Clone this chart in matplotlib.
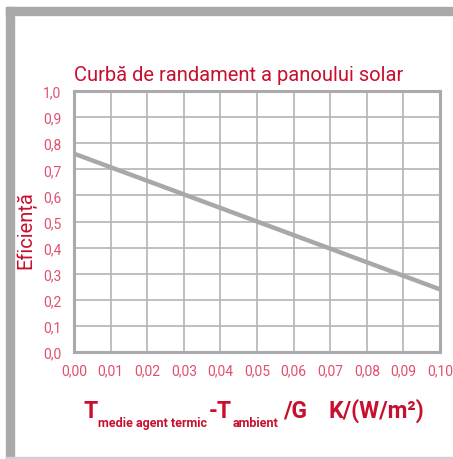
import matplotlib.pyplot as plt
from matplotlib.patches import Rectangle

# data
x_vals = [0.0, 0.10]
eff_vals = [0.76, 0.24]
x_ticks = [0.00, 0.01, 0.02, 0.03, 0.04, 0.05, 0.06, 0.07, 0.08, 0.09, 0.10]
y_ticks = [0.0, 0.1, 0.2, 0.3, 0.4, 0.5, 0.6, 0.7, 0.8, 0.9, 1.0]
x_labels = ["0,00", "0,01", "0,02", "0,03", "0,04", "0,05", "0,06", "0,07", "0,08", "0,09", "0,10"]
y_labels = ["0,0", "0,1", "0,2", "0,3", "0,4", "0,5", "0,6", "0,7", "0,8", "0,9", "1,0"]

plt.rcParams['font.family'] = ["Roboto", "DejaVu Sans"]

W, H = 453, 460
red = "#c8102e"
pink = "#e0506e"
grey = "#b4b4b4"

fig = plt.figure(figsize=(W / 100, H / 100), dpi=100)

# outer frame
fig.patches.append(Rectangle((6 / W, 1 - 16 / H), 1, 8 / H, transform=fig.transFigure,
                             color="#a9a9a9", zorder=0))
fig.patches.append(Rectangle((6 / W, 0), 8 / W, 1 - 8 / H, transform=fig.transFigure,
                             color="#a9a9a9", zorder=0))
fig.patches.append(Rectangle((6 / W, 0), 1, 2 / H, transform=fig.transFigure,
                             color="#d0d0d0", zorder=0))

ax = fig.add_axes([74 / W, 1 - 353 / H, 366 / W, 261 / H])
ax.plot(x_vals, eff_vals, color="#a8a8a8", lw=3.2, solid_capstyle='butt', zorder=3)

ax.set_xlim(0, 0.10)
ax.set_ylim(0, 1.0)
ax.set_xticks(x_ticks)
ax.set_xticklabels(x_labels)
ax.set_yticks(y_ticks)
ax.set_yticklabels(y_labels)
ax.tick_params(length=0, colors=pink, labelsize=10)
ax.tick_params(axis='x', pad=8)
ax.tick_params(axis='y', pad=9)
ax.grid(True, color=grey, lw=1.2)
for s in ax.spines.values():
    s.set_color("#aaaaaa")
    s.set_linewidth(2.2)

ax.set_title("Curbă de randament a panoului solar", color=red, fontsize=14.5,
             loc='left', pad=8)
fig.text(26 / W, 1 - 230 / H, "Eficiență", color=red, fontsize=14.5,
         rotation=90, ha='center', va='center')

# x axis label, built piece by piece (big T + subscripts)
renderer = fig.canvas.get_renderer()
pieces = [("T", 16.5, 0, 0), ("medie agent termic", 9, 9, 0), ("-T", 16.5, 0, 0),
          ("ambient", 9, 9, 0), ("/G", 16.5, 0, 4)]
xpos = 83
for txt, size, dy, gap in pieces:
    t = fig.text((xpos + gap) / W, 1 - (418 + dy) / H, txt, color=red, fontsize=size,
                 fontweight='bold', ha='left', va='baseline')
    xpos = t.get_window_extent(renderer).x1 + 1
fig.text((xpos + 20) / W, 1 - 418 / H, "K/(W/m²)", color=red, fontsize=16.5,
         fontweight='bold', ha='left', va='baseline')

fig.savefig("out.png", dpi=100)
